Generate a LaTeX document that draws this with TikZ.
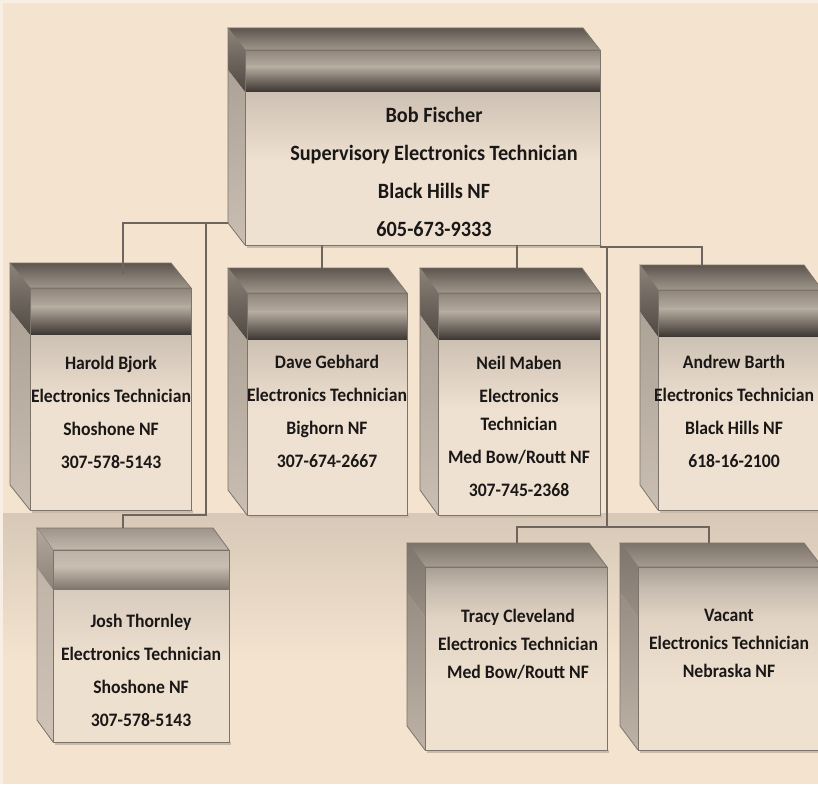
\documentclass[tikz,border=0pt]{standalone}
\usepackage{fontspec}
\setmainfont{Carlito}[FakeStretch=0.93]
\usetikzlibrary{calc}
% background / lines / text
\definecolor{bg}{HTML}{F4E3CF}
\definecolor{bgrim}{HTML}{F9EEE3}
\definecolor{floorc}{HTML}{D7C8B7}
\definecolor{connc}{HTML}{6E665E}
\definecolor{edgec}{HTML}{7C736A}
\definecolor{shadowc}{HTML}{C9BBAA}
\definecolor{txtc}{HTML}{1A1816}
% dark-band palette
\definecolor{DtopA}{HTML}{5E564F}\definecolor{DtopB}{HTML}{A0968B}
\definecolor{DleftA}{HTML}{8C8379}\definecolor{DleftB}{HTML}{4F4842}
\definecolor{DleftC}{HTML}{ADA296}\definecolor{DleftD}{HTML}{C9BEB1}
\definecolor{DfA}{HTML}{8F857B}\definecolor{DfB}{HTML}{B5AB9F}
\definecolor{DfC}{HTML}{3A3430}\definecolor{DfD}{HTML}{CDC1B4}
\definecolor{DfE}{HTML}{EFE1D1}
% light-band palette
\definecolor{LtopA}{HTML}{9E948A}\definecolor{LtopB}{HTML}{C3B8AC}
\definecolor{LleftA}{HTML}{B3A89C}\definecolor{LleftB}{HTML}{8C8278}
\definecolor{LleftC}{HTML}{BFB4A7}\definecolor{LleftD}{HTML}{CEC3B6}
\definecolor{LfA}{HTML}{BDB2A6}\definecolor{LfB}{HTML}{C9BEB2}
\definecolor{LfC}{HTML}{7D736A}\definecolor{LfD}{HTML}{D8CCBF}
\definecolor{LfE}{HTML}{EEE0CF}
% plain palette
\definecolor{PtopA}{HTML}{7C736A}\definecolor{PtopB}{HTML}{A69B90}
\definecolor{PleftA}{HTML}{7E756C}\definecolor{PleftB}{HTML}{978D83}
\definecolor{PleftC}{HTML}{978D83}\definecolor{PleftD}{HTML}{BDB2A5}
\definecolor{PfA}{HTML}{A99E93}\definecolor{PfB}{HTML}{C5BAAE}
\definecolor{PfC}{HTML}{E0D3C3}\definecolor{PfD}{HTML}{E0D3C3}
\definecolor{PfE}{HTML}{EFE1D0}
\tikzset{
  conn/.style={draw=connc, line width=2.2pt, line join=miter},
  boxedge/.style={draw=edgec, line width=0.8pt},
  bigtxt/.style={font=\bfseries\fontsize{21.8}{38}\selectfont, align=center, text=txtc, inner sep=0pt},
  boxtxt/.style={font=\bfseries\fontsize{19}{33}\selectfont, align=center, text=txtc, inner sep=0pt},
  lowtxt/.style={font=\bfseries\fontsize{19}{28}\selectfont, align=center, text=txtc, inner sep=0pt},
}
% #1 x left front, #2 y top front, #3 x right front, #4 y bottom front,
% #5 dx, #6 dy (depth offset), #7 band depth, #8 palette
\newcommand\orgcube[8]{%
  \fill[shadowc] ({#1+2},{#4}) rectangle ({#3+2},{#4+3});
  \path[boxedge, top color=#8topA, bottom color=#8topB]
    ({#1-#5},{#2-#6}) -- ({#3-#5},{#2-#6}) -- (#3,#2) -- (#1,#2) -- cycle;
  \path[top color=#8leftA, bottom color=#8leftB]
    ({#1-#5},{#2-#6}) -- (#1,#2) -- (#1,{#2+#7}) -- ({#1-#5},{#2+#7-#6}) -- cycle;
  \path[top color=#8leftC, bottom color=#8leftD]
    ({#1-#5},{#2+#7-#6}) -- (#1,{#2+#7}) -- (#1,#4) -- ({#1-#5},{#4-#6}) -- cycle;
  \draw[boxedge] ({#1-#5},{#2-#6}) -- ({#1-#5},{#4-#6}) -- (#1,#4);
  \path[top color=#8fA, bottom color=#8fB] (#1,#2) rectangle (#3,{#2+0.4*#7});
  \path[top color=#8fB, bottom color=#8fC] (#1,{#2+0.4*#7}) rectangle (#3,{#2+#7});
  \path[top color=#8fD, bottom color=#8fE] (#1,{#2+#7}) rectangle (#3,{#2+#7+70});
  \fill[#8fE] (#1,{#2+#7+70}) rectangle (#3,#4);
  \draw[boxedge] (#1,#2) rectangle (#3,#4);
}
\begin{document}
\begin{tikzpicture}[x=1pt,y=-1pt]
\useasboundingbox (0,0) rectangle (818,784);
\clip (0,0) rectangle (818,784);
% background
\fill[bg] (0,0) rectangle (818,784);
\fill[bgrim] (0,0) rectangle (818,3);
\fill[bgrim] (0,0) rectangle (3,784);
\path[top color=floorc, bottom color=bg] (3,513) rectangle (818,660);

% boxes
\orgcube{245}{50}{600}{245}{17}{22}{42}{D}
\orgcube{30}{288}{191}{510}{20}{25}{47}{D}
\orgcube{247}{293}{407}{515}{19}{25}{47}{D}
\orgcube{438}{293}{600}{515}{18}{25}{47}{D}
\orgcube{658}{290}{822}{510}{18}{25}{47}{D}
\orgcube{53}{550}{229}{742}{16}{22}{40}{L}
\orgcube{425}{567}{607}{750}{18}{24}{50}{P}
\orgcube{638}{567}{822}{750}{18}{24}{50}{P}

% texts
\node[bigtxt] (bob) at (434,172) {Bob Fischer\\Supervisory Electronics Technician\\Black Hills NF\\605-673-9333};
\node[boxtxt] (harold) at (111,412) {Harold Bjork\\Electronics Technician\\Shoshone NF\\307-578-5143};
\node[boxtxt] (dave) at (327,411) {Dave Gebhard\\Electronics Technician\\Bighorn NF\\307-674-2667};
\node[boxtxt] (neil) at (519,426) {Neil Maben\\Electronics\\[-5pt]Technician\\Med Bow/Routt NF\\307-745-2368};
\node[boxtxt] (andrew) at (734,411) {Andrew Barth\\Electronics Technician\\Black Hills NF\\618-16-2100};
\node[boxtxt] (josh) at (141,670) {Josh Thornley\\Electronics Technician\\Shoshone NF\\307-578-5143};
\node[lowtxt] (tracy) at (518,644) {Tracy Cleveland\\Electronics Technician\\Med Bow/Routt NF};
\node[lowtxt] (vacant) at (729,643) {Vacant\\Electronics Technician\\Nebraska NF};

% connector points
\coordinate (bobL) at (228,223);
\coordinate (bobR) at (600,247);
\coordinate (bobB1) at (322,245);
\coordinate (bobB2) at (517,245);
\coordinate (j1) at (206,223);
\coordinate (j1b) at (206,515);
\coordinate (j2) at (607,247);
\coordinate (j3) at (607,527);
\coordinate (haroldIn) at (123,274);
\coordinate (daveIn) at (322,268);
\coordinate (neilIn) at (517,268);
\coordinate (andrewIn) at (702,266);
\coordinate (joshIn) at (123,528);
\coordinate (tracyIn) at (517,543);
\coordinate (vacantIn) at (709,543);

% connectors
\draw[conn] (bobL) -| (haroldIn);
\draw[conn] (j1) -- (j1b) -| (joshIn);
\draw[conn] (bobB1) -- (daveIn);
\draw[conn] (bobB2) -- (neilIn);
\draw[conn] (bobR) -| (andrewIn);
\draw[conn] (j2) -- (j3);
\draw[conn] (j3) -| (tracyIn);
\draw[conn] (j3) -| (vacantIn);
\end{tikzpicture}
\end{document}
